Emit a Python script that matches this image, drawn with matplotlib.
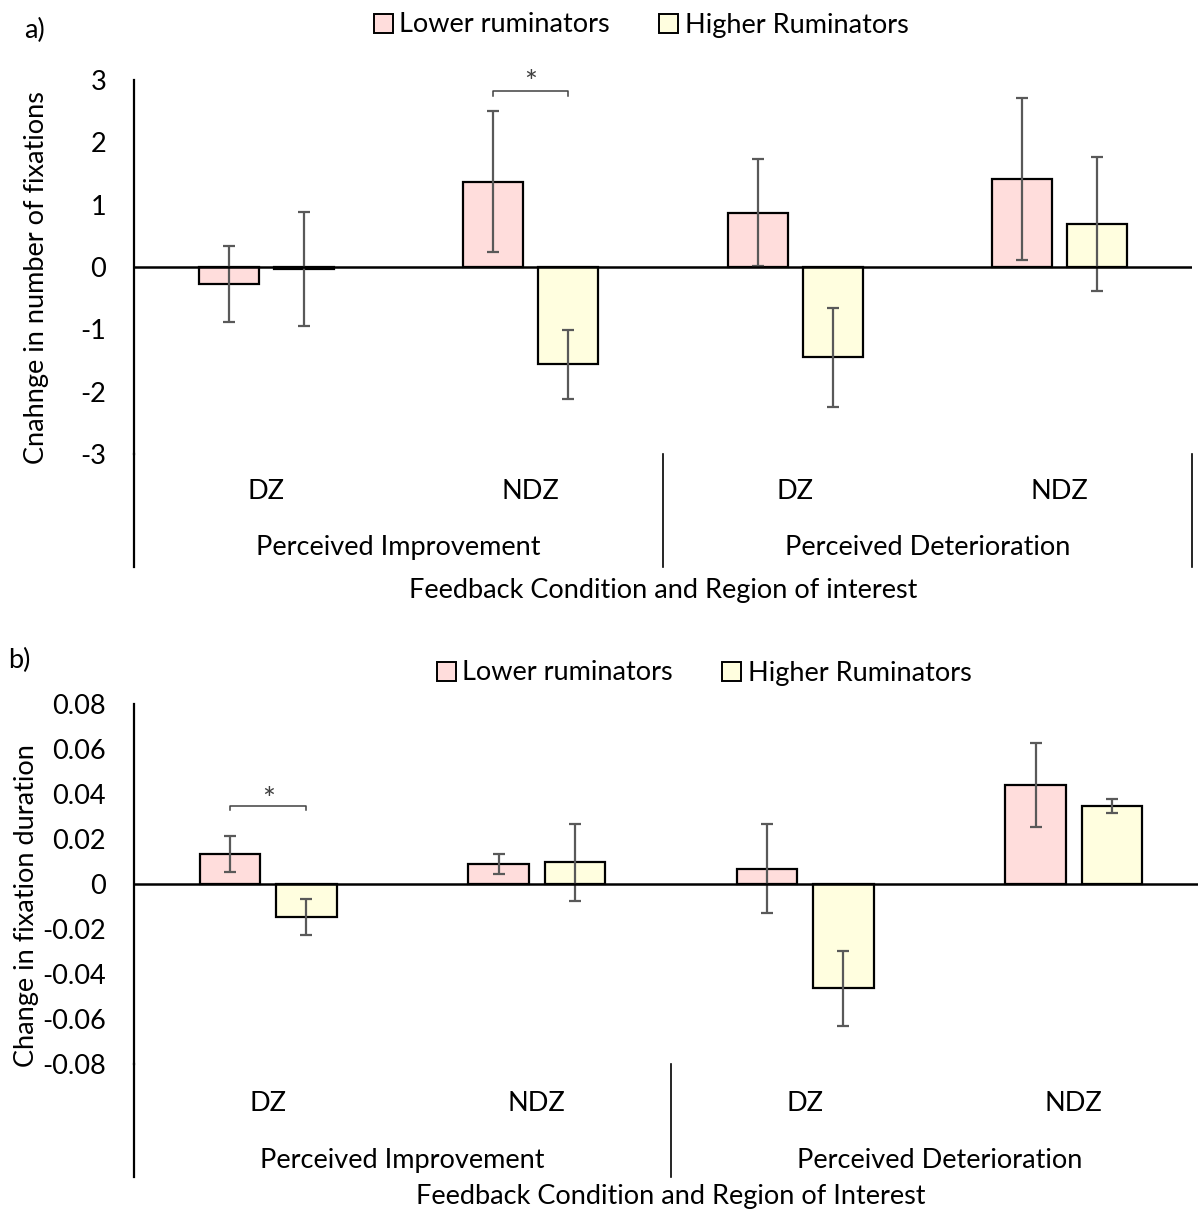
import matplotlib.pyplot as plt
from matplotlib.patches import Patch
from matplotlib.lines import Line2D

plt.rcParams['font.family'] = ['Lato', 'DejaVu Sans']

# data
regions = ['DZ', 'NDZ', 'DZ', 'NDZ']
conditions = ['Perceived Improvement', 'Perceived Deterioration']
groups = ['Lower ruminators', 'Higher Ruminators']

fix_lower = [-0.28, 1.37, 0.87, 1.41]
fix_lower_err = [0.61, 1.13, 0.86, 1.30]
fix_higher = [-0.03, -1.56, -1.45, 0.69]
fix_higher_err = [0.92, 0.55, 0.80, 1.07]

dur_lower = [0.0132, 0.0088, 0.0067, 0.0440]
dur_lower_err = [0.0080, 0.0044, 0.0198, 0.0186]
dur_higher = [-0.0147, 0.0096, -0.0464, 0.0347]
dur_higher_err = [0.0081, 0.0170, 0.0165, 0.0033]

pink = '#FFDDDC'
yellow = '#FFFEDF'
err_col = '#595959'
FS = 19.5
W, H = 1198, 1212

fig = plt.figure(figsize=(W / 100, H / 100), dpi=100)


def panel(rect, lo, lo_err, hi, hi_err, ylim, yticks, ticklabels, ylabel,
          xtitle, lab_y, grp_y, title_y, spine_bot, ylab_pos, sig, sig_y):
    ax = fig.add_axes(rect)
    x = list(range(len(regions)))
    w, off = 0.226, 0.142
    ax.bar([i - off for i in x], lo, w, color=pink, edgecolor='black', lw=1.6, zorder=2)
    ax.bar([i + off for i in x], hi, w, color=yellow, edgecolor='black', lw=1.6, zorder=2)
    ax.errorbar([i - off for i in x], lo, yerr=lo_err, fmt='none', ecolor=err_col,
                elinewidth=1.6, capsize=4.5, capthick=1.6, zorder=3)
    ax.errorbar([i + off for i in x], hi, yerr=hi_err, fmt='none', ecolor=err_col,
                elinewidth=1.6, capsize=4.5, capthick=1.6, zorder=3)
    ax.axhline(0, color='black', lw=1.8, zorder=4)
    ax.set_xlim(-0.5, 3.5)
    ax.set_ylim(*ylim)
    ax.set_yticks(yticks)
    ax.set_yticklabels(ticklabels)
    ax.tick_params(axis='y', length=0, pad=20, labelsize=FS)
    ax.set_xticks([])
    for s in ['top', 'right', 'bottom']:
        ax.spines[s].set_visible(False)
    ax.spines['left'].set_linewidth(1.6)
    ax.set_ylabel(ylabel, fontsize=FS)
    ax.yaxis.set_label_coords(*ylab_pos)
    tr = ax.get_xaxis_transform()
    # extend left spine down through category area, plus dividers
    ax.add_line(Line2D([-0.5, -0.5], [0, spine_bot], transform=tr, color='black',
                       lw=1.6, clip_on=False))
    for xd in [1.5, 3.5]:
        ax.add_line(Line2D([xd, xd], [0, spine_bot], transform=tr, color='black',
                           lw=1.2, clip_on=False))
    for i, r in enumerate(regions):
        ax.text(i, lab_y, r, transform=tr, ha='center', va='center', fontsize=FS)
    for j, c in enumerate(conditions):
        ax.text(0.5 + 2 * j, grp_y, c, transform=tr, ha='center', va='center', fontsize=FS)
    ax.text(1.5, title_y, xtitle, transform=tr, ha='center', va='center', fontsize=FS)
    # significance bracket
    i0, dy, tick = sig
    ax.plot([i0 - 0.142, i0 - 0.142, i0 + 0.142, i0 + 0.142],
            [sig_y - tick, sig_y, sig_y, sig_y - tick], color='#404040', lw=1.1)
    ax.text(i0, sig_y + dy, '*', ha='center', va='center', fontsize=22, color='#404040')
    return ax


# panel a: y from -3 to 3 between px 454 and 80
panel([134 / W, 1 - 454 / H, 1058 / W, 374 / H],
      fix_lower, fix_lower_err, fix_higher, fix_higher_err,
      (-3, 3), [3, 2, 1, 0, -1, -2, -3], ['3', '2', '1', '0', '-1', '-2', '-3'],
      'Cnahnge in number of fixations', 'Feedback Condition and Region of interest',
      -0.099, -0.251, -0.364, -0.302, (-0.080, 0.473),
      (1, 0.13, 0.08), 2.82)

# panel b: y from -0.08 to 0.08 between px 1064 and 704
panel([134 / W, 1 - 1064 / H, 1074 / W, 360 / H],
      dur_lower, dur_lower_err, dur_higher, dur_higher_err,
      (-0.08, 0.08), [0.08, 0.06, 0.04, 0.02, 0, -0.02, -0.04, -0.06, -0.08],
      ['0.08', '0.06', '0.04', '0.02', '0', '-0.02', '-0.04', '-0.06', '-0.08'],
      'Change in fixation duration', 'Feedback Condition and Region of Interest',
      -0.111, -0.267, -0.367, -0.314, (-0.088, 0.44),
      (0, 0.003, 0.0018), 0.0345)

handles = [Patch(facecolor=pink, edgecolor='black', lw=1.4),
           Patch(facecolor=yellow, edgecolor='black', lw=1.4)]
for cx, cy in [(641, 25), (704, 673)]:
    fig.legend(handles, groups, loc='center', bbox_to_anchor=(cx / W, 1 - cy / H),
               ncol=2, frameon=False, fontsize=FS, handlelength=0.7, handleheight=0.7,
               handletextpad=0.25, columnspacing=1.8, borderaxespad=0)

fig.text(24 / W, 1 - 30 / H, 'a)', fontsize=FS, ha='left', va='center')
fig.text(8 / W, 1 - 660 / H, 'b)', fontsize=FS, ha='left', va='center')

fig.savefig('out.png', dpi=100)
